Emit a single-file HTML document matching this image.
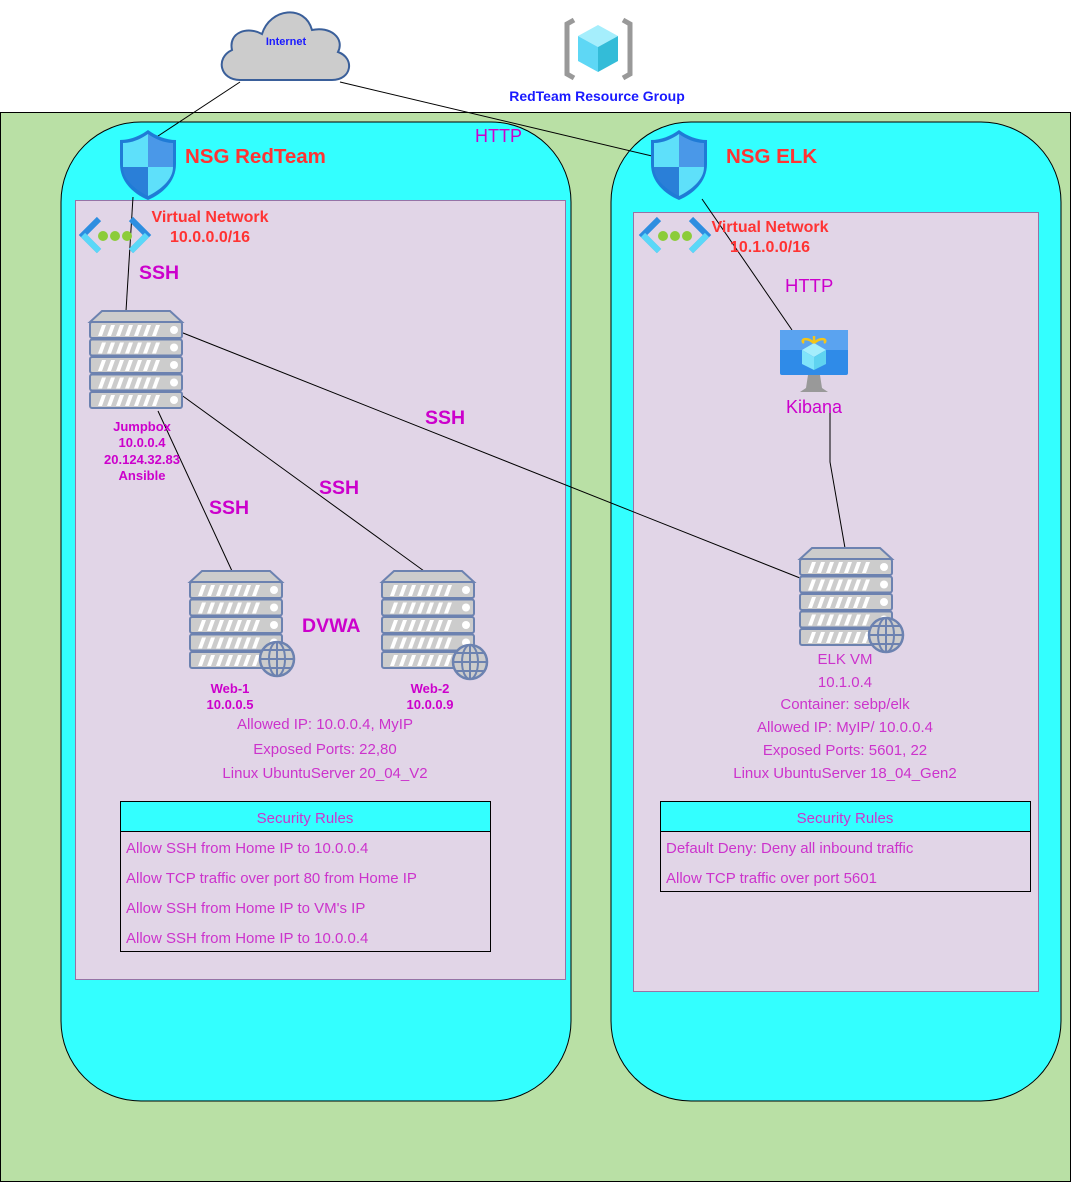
<!DOCTYPE html>
<html><head><meta charset="utf-8"><style>
html,body{margin:0;padding:0;background:#fff;}
svg{display:block;font-family:"Liberation Sans",Arial,sans-serif;}
</style></head><body>
<svg width="1071" height="1182" viewBox="0 0 1071 1182" xmlns="http://www.w3.org/2000/svg">
<defs>
  <g id="srv">
    <polygon points="12,0 80,0 92,11 0,11" fill="#ccc" stroke="#6c82b0" stroke-width="2"/>
    <g id="slab">
      <rect x="0" y="11" width="92" height="16" rx="2" fill="#ccc" stroke="#6c82b0" stroke-width="2"/>
      <path d="M8,25 l4,-11 h4 l-4,11z M17,25 l4,-11 h4 l-4,11z M26,25 l4,-11 h4 l-4,11z M35,25 l4,-11 h4 l-4,11z M44,25 l4,-11 h4 l-4,11z M53,25 l4,-11 h4 l-4,11z M62,25 l4,-11 h4 l-4,11z" fill="#fff"/>
      <circle cx="84" cy="19" r="4" fill="#fff"/>
    </g>
    <use href="#slab" y="17.5"/>
    <use href="#slab" y="35"/>
    <use href="#slab" y="52.5"/>
    <use href="#slab" y="70"/>
  </g>
  <g id="globe">
    <circle r="17" fill="#ccc" stroke="#6c82b0" stroke-width="2.5"/>
    <ellipse rx="8" ry="17" fill="none" stroke="#6c82b0" stroke-width="2"/>
    <line x1="0" y1="-17" x2="0" y2="17" stroke="#6c82b0" stroke-width="2"/>
    <line x1="-17" y1="0" x2="17" y2="0" stroke="#6c82b0" stroke-width="2"/>
    <line x1="-14" y1="-9" x2="14" y2="-9" stroke="#6c82b0" stroke-width="2"/>
    <line x1="-14" y1="9" x2="14" y2="9" stroke="#6c82b0" stroke-width="2"/>
  </g>
  <g id="shield">
    <path d="M0,6 C10,6 20,2 28,-4 C36,2 46,6 56,6 L56,30 C56,48 42,60 28,66 C14,60 0,48 0,30 Z" fill="#1f7bd6"/>
    <path d="M3,9 C12,9 21,5 28,0 L28,33 L3,33 Z" fill="#5ee0fa"/>
    <path d="M28,0 C35,5 44,9 53,9 L53,33 L28,33 Z" fill="#4a98e8"/>
    <path d="M3,33 L28,33 L28,62 C16,56 3,46 3,33 Z" fill="#2a7fd8"/>
    <path d="M28,33 L53,33 C53,46 40,56 28,62 Z" fill="#5ee0fa"/>
  </g>
  <g id="vnet">
    <path d="M18,0 L2,16 L18,32" fill="none" stroke="#2d8ee0" stroke-width="6"/>
    <path d="M2,16 L18,32" stroke="#5ad8f8" stroke-width="6"/>
    <path d="M50,0 L66,16 L50,32" fill="none" stroke="#2d8ee0" stroke-width="6"/>
    <path d="M66,16 L50,32" stroke="#5ad8f8" stroke-width="6"/>
    <circle cx="22" cy="17" r="5" fill="#8ccc3a"/>
    <circle cx="34" cy="17" r="5" fill="#8ccc3a"/>
    <circle cx="46" cy="17" r="5" fill="#8ccc3a"/>
  </g>
</defs>

<rect x="0.5" y="112.5" width="1070" height="1069" fill="#b9e0a5" stroke="#000"/>

<path d="M240,80 C220,80 215,58 232,50 C228,32 248,26 262,34 C270,8 305,4 312,30 C330,26 345,38 338,52 C355,58 352,80 332,80 Z" fill="#ccc" stroke="#3a5f9a" stroke-width="2"/>
<text x="286" y="45" font-size="11" font-weight="bold" fill="#1a1aff" text-anchor="middle">Internet</text>

<path d="M574,20 L567,24 L567,74 L574,78" fill="none" stroke="#999" stroke-width="5"/>
<path d="M623,20 L630,24 L630,74 L623,78" fill="none" stroke="#999" stroke-width="5"/>
<polygon points="598,25 618,36 598,47 578,36" fill="#a5eefc"/>
<polygon points="578,36 598,47 598,72 578,61" fill="#5ed7f5"/>
<polygon points="618,36 598,47 598,72 618,61" fill="#33bcd8"/>
<text x="597" y="101" font-size="14" font-weight="bold" fill="#1a1aff" text-anchor="middle">RedTeam Resource Group</text>

<rect x="61" y="122" width="510" height="979" rx="80" fill="#33ffff" stroke="#000"/>
<rect x="611" y="122" width="450" height="979" rx="80" fill="#33ffff" stroke="#000"/>
<rect x="75.5" y="200.5" width="490" height="779" fill="#e1d5e7" stroke="#9673a6"/>
<rect x="633.5" y="212.5" width="405" height="779" fill="#e1d5e7" stroke="#9673a6"/>

<g stroke="#000" stroke-width="1" fill="none">
  <line x1="240" y1="82" x2="152" y2="140"/>
  <line x1="340" y1="82" x2="652" y2="156"/>
  <line x1="133" y1="197" x2="126" y2="311"/>
  <line x1="702" y1="199" x2="792" y2="330"/>
  <line x1="178" y1="331" x2="800" y2="578"/>
  <line x1="180" y1="394" x2="424" y2="571"/>
  <line x1="158" y1="411" x2="232" y2="571"/>
  <polyline points="830,413 830,462 845,548"/>
</g>

<use href="#shield" x="120" y="134"/>
<use href="#shield" x="651" y="134"/>
<text x="185" y="163" font-size="20.5" font-weight="bold" fill="#ff3333">NSG RedTeam</text>
<text x="726" y="163" font-size="20.5" font-weight="bold" fill="#ff3333">NSG ELK</text>
<text x="475" y="142" font-size="18" fill="#cc00cc">HTTP</text>

<use href="#vnet" x="81" y="219"/>
<use href="#vnet" x="641" y="219"/>
<text x="210" y="222" font-size="16" font-weight="bold" fill="#ff3333" text-anchor="middle">Virtual Network</text>
<text x="210" y="242" font-size="16" font-weight="bold" fill="#ff3333" text-anchor="middle">10.0.0.0/16</text>
<text x="770" y="232" font-size="16" font-weight="bold" fill="#ff3333" text-anchor="middle">Virtual Network</text>
<text x="770" y="252" font-size="16" font-weight="bold" fill="#ff3333" text-anchor="middle">10.1.0.0/16</text>

<g font-size="19.5" font-weight="bold" fill="#cc00cc">
  <text x="139" y="279">SSH</text>
  <text x="425" y="424">SSH</text>
  <text x="319" y="494">SSH</text>
  <text x="209" y="514">SSH</text>
  <text x="302" y="632">DVWA</text>
</g>
<text x="785" y="292" font-size="18.5" fill="#cc00cc">HTTP</text>

<use href="#srv" x="90" y="311"/>
<use href="#srv" x="190" y="571"/>
<use href="#globe" x="277" y="659"/>
<use href="#srv" x="382" y="571"/>
<use href="#globe" x="470" y="662"/>
<use href="#srv" x="800" y="548"/>
<use href="#globe" x="886" y="635"/>

<g font-size="13" font-weight="bold" fill="#cc00cc" text-anchor="middle">
  <text x="142" y="431">Jumpbox</text>
  <text x="142" y="447">10.0.0.4</text>
  <text x="142" y="464">20.124.32.83</text>
  <text x="142" y="480">Ansible</text>
  <text x="230" y="693">Web-1</text>
  <text x="230" y="709">10.0.0.5</text>
  <text x="430" y="693">Web-2</text>
  <text x="430" y="709">10.0.0.9</text>
</g>

<rect x="780" y="330" width="68" height="45" rx="2" fill="#2f8be8"/>
<rect x="780" y="330" width="68" height="20" fill="#5aa3f0"/>
<polygon points="814,343 826,350 814,357 802,350" fill="#a5eefc"/>
<polygon points="802,350 814,357 814,370 802,364" fill="#7fe4fa"/>
<polygon points="826,350 814,357 814,370 826,364" fill="#5fd3f0"/>
<path d="M814,343 C806,336 800,340 804,343 M814,343 C822,336 828,340 824,343 M814,343 L814,336" stroke="#f5c518" stroke-width="2.5" fill="none"/>
<path d="M808,375 L820,375 L822,388 L828,392 L800,392 L806,388 Z" fill="#999"/>
<text x="814" y="413" font-size="18" fill="#cc00cc" text-anchor="middle">Kibana</text>

<g font-size="15" fill="#cc33cc" text-anchor="middle">
  <text x="325" y="729">Allowed IP: 10.0.0.4, MyIP</text>
  <text x="325" y="754">Exposed Ports: 22,80</text>
  <text x="325" y="778">Linux UbuntuServer 20_04_V2</text>
  <text x="845" y="664">ELK VM</text>
  <text x="845" y="687">10.1.0.4</text>
  <text x="845" y="709">Container: sebp/elk</text>
  <text x="845" y="732">Allowed IP: MyIP/ 10.0.0.4</text>
  <text x="845" y="755">Exposed Ports: 5601, 22</text>
  <text x="845" y="778">Linux UbuntuServer 18_04_Gen2</text>
</g>

<rect x="120.5" y="801.5" width="370" height="150" fill="#e1d5e7" stroke="#000"/>
<rect x="120.5" y="801.5" width="370" height="30" fill="#33ffff" stroke="#000"/>
<rect x="660.5" y="801.5" width="370" height="90" fill="#e1d5e7" stroke="#000"/>
<rect x="660.5" y="801.5" width="370" height="30" fill="#33ffff" stroke="#000"/>
<g font-size="15" fill="#cc33cc">
  <text x="305" y="823" text-anchor="middle">Security Rules</text>
  <text x="126" y="853">Allow SSH from Home IP to 10.0.0.4</text>
  <text x="126" y="883">Allow TCP traffic over port 80 from Home IP</text>
  <text x="126" y="913">Allow SSH from Home IP to VM's IP</text>
  <text x="126" y="943">Allow SSH from Home IP to 10.0.0.4</text>
  <text x="845" y="823" text-anchor="middle">Security Rules</text>
  <text x="666" y="853">Default Deny: Deny all inbound traffic</text>
  <text x="666" y="883">Allow TCP traffic over port 5601</text>
</g>
</svg>
</body></html>
